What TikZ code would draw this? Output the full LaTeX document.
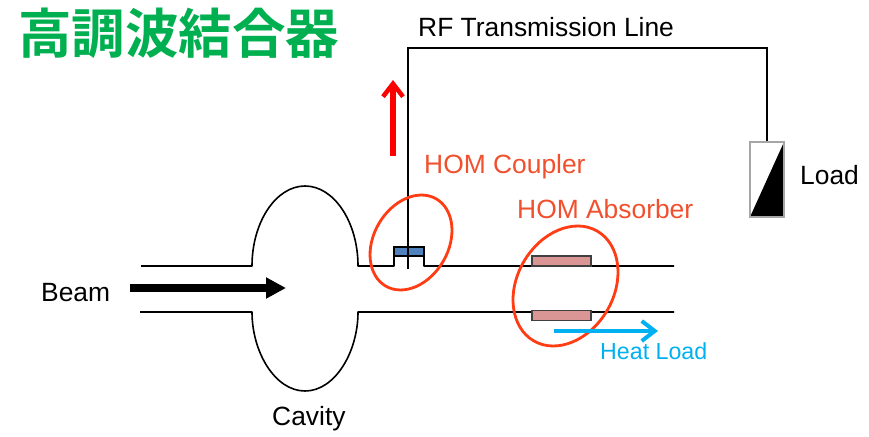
\documentclass[tikz,border=0pt]{standalone}
\usepackage{fontspec}
\setmainfont{Liberation Sans}
\newfontfamily\cjkfont{Noto Sans CJK JP}[BoldFont={Noto Sans CJK JP Bold}]
\usetikzlibrary{arrows.meta,shapes.geometric}
\definecolor{titlegreen}{HTML}{00B050}
\definecolor{homred}{HTML}{FF3C14}
\definecolor{labelred}{HTML}{F0502D}
\definecolor{heatblue}{HTML}{00B0F0}
\definecolor{couplerblue}{HTML}{4F81BD}
\definecolor{absorberpink}{HTML}{D99694}
\tikzset{
  wire/.style={draw=black,line width=1.6pt},
  label/.style={inner sep=0pt,anchor=west,font=\fontsize{26.4}{26.4}\selectfont},
  homring/.style={draw=homred,line width=2.8pt,ellipse,rotate=60,inner sep=0pt},
  absorber/.style={draw=black!75,fill=absorberpink,line width=1.2pt,minimum width=59pt,minimum height=10pt,inner sep=0pt}
}
\begin{document}
\begin{tikzpicture}[x=1pt,y=-1pt]
\useasboundingbox (0,0) rectangle (869,436);
\node[inner sep=0pt,anchor=west,text=titlegreen] (title) at (18,33) {\cjkfont\bfseries\fontsize{53.5}{53.5}\selectfont 高調波結合器};
% cavity
\draw[wire,line join=round] (141,266) -- (252,266) .. controls (252,222) and (276,186) .. (305,186) .. controls (334,186) and (358,222) .. (358,266) -- (394,266) -- (394,247) -- (424,247) -- (424,266) -- (674,266);
\draw[wire,line join=round] (140,312) -- (252,312) .. controls (252,352) and (275,391) .. (305,391) .. controls (335,391) and (358,352) .. (358,312) -- (674,312);
% coupler
\node[draw=black,fill=couplerblue,line width=1.5pt,minimum width=30pt,minimum height=9pt,inner sep=0pt] (coupler) at (409,251.5) {};
\fill[black] (750,217) -- (784,142) -- (784,217) -- cycle;
\node[draw=black!35,line width=1.5pt,minimum width=34pt,minimum height=75pt,inner sep=0pt] (load) at (767,179.5) {};
\coordinate (probe) at (408,269);
\coordinate (corner) at (408,48);
\coordinate (turn) at (767,48);
\draw[wire] (probe) -- (corner) -- (turn) -- (load.north);
% absorbers
\node[absorber] (abstop) at (561.5,261) {};
\node[absorber] (absbot) at (561.5,315.5) {};
% rings
\node[homring,minimum width=100.8pt,minimum height=74.6pt] (ringc) at (411,242.5) {};
\node[homring,minimum width=126.8pt,minimum height=96.6pt] (ringa) at (565.5,286) {};
% arrows
\coordinate (rs) at (393,156); \coordinate (re) at (393,80);
\draw[red,line width=5.5pt,-{Straight Barb[length=13pt,width=20pt,line width=4.5pt]}] (rs) -- (re);
\coordinate (bs) at (130,288); \coordinate (be) at (286,288);
\draw[black,line width=8pt,-{Triangle[length=20pt,width=20pt]}] (bs) -- (be);
\coordinate (hs) at (554,331); \coordinate (he) at (658,331);
\draw[heatblue,line width=4pt,-{Straight Barb[length=13pt,width=20pt,line width=4pt]}] (hs) -- (he);
% labels
\node[label] (rf) at (418,27) {RF Transmission Line};
\node[label,text=labelred] (hc) at (424,167) {HOM Coupler};
\node[label,text=labelred] (ha) at (517,209) {HOM Absorber};
\node[label] (ll) at (800,175) {Load};
\node[label] (bm) at (41,292.5) {Beam};
\node[label] (cv) at (272,419) {Cavity};
\node[label,text=heatblue,font=\fontsize{23.2}{23.2}\selectfont] (hl) at (600,351) {Heat Load};
\end{tikzpicture}
\end{document}
